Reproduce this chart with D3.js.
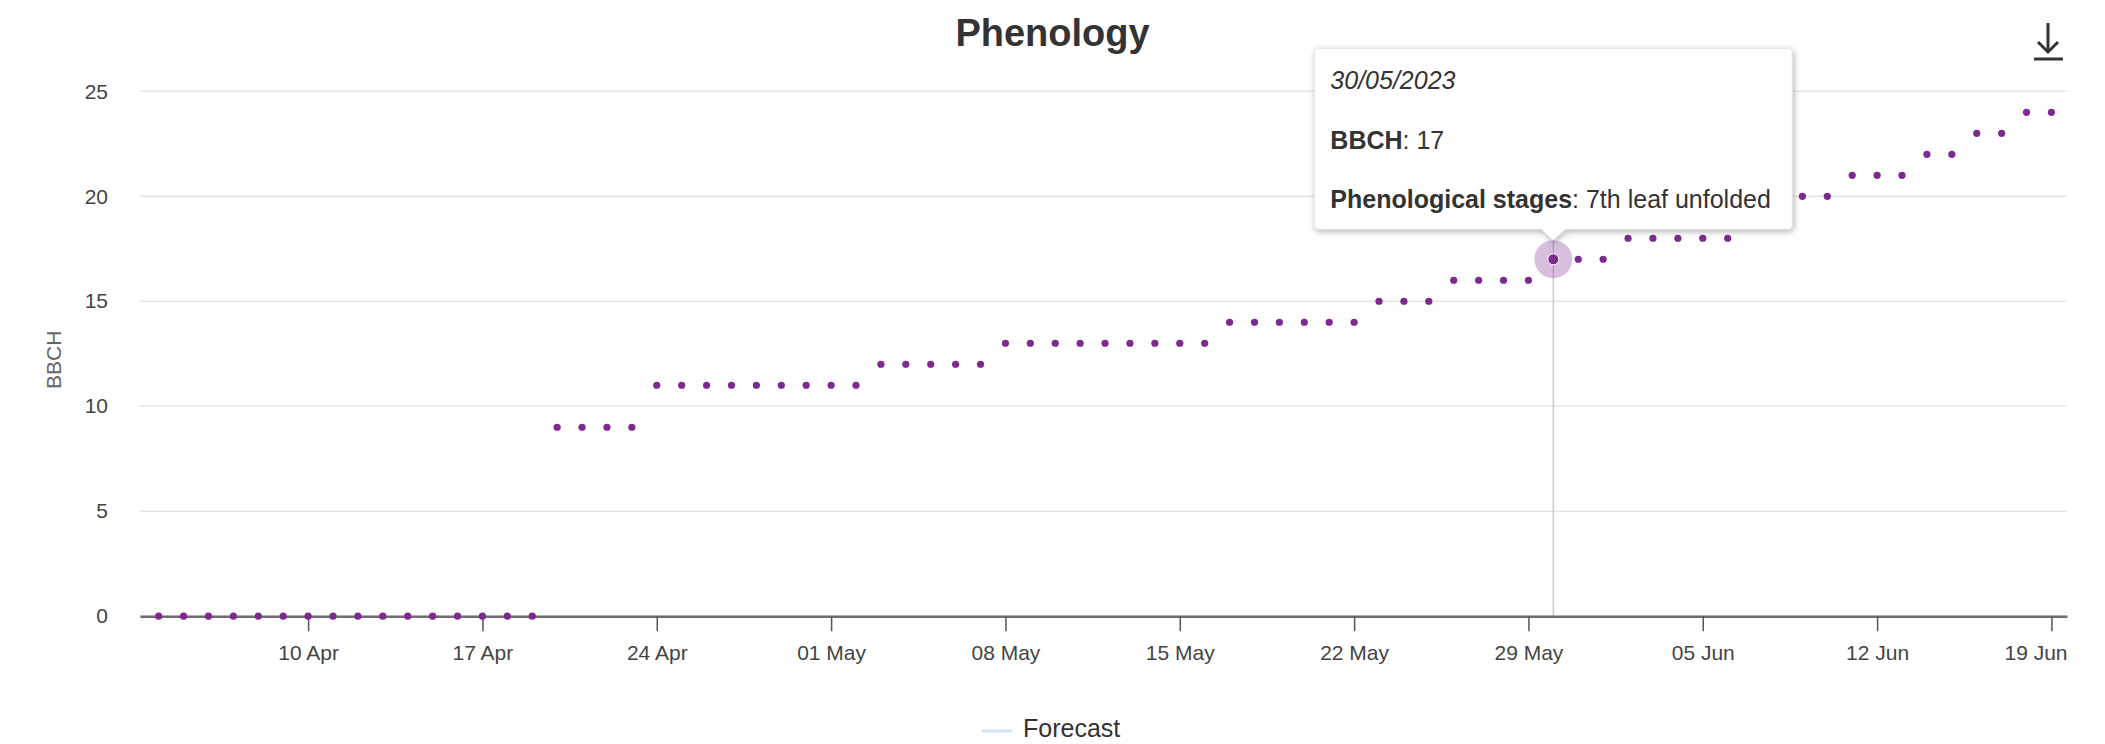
<!DOCTYPE html>
<html>
<head>
<meta charset="utf-8">
<script src="https://cdn.jsdelivr.net/npm/d3@7"></script>
<style>
    body { margin: 0; background: #fff; }
    svg { display: block; font-family: "Liberation Sans", Arial, sans-serif; }
</style>
</head>
<body>
<div id="chart"></div>
<script>
const WIDTH = 2105
const HEIGHT = 744
const DOT_COLOR = '#7d2a8f'

// Daily BBCH observations
const dates = [
    '2023-04-04', '2023-04-05', '2023-04-06', '2023-04-07', '2023-04-08', '2023-04-09', '2023-04-10',
    '2023-04-11', '2023-04-12', '2023-04-13', '2023-04-14', '2023-04-15', '2023-04-16', '2023-04-17',
    '2023-04-18', '2023-04-19', '2023-04-20', '2023-04-21', '2023-04-22', '2023-04-23', '2023-04-24',
    '2023-04-25', '2023-04-26', '2023-04-27', '2023-04-28', '2023-04-29', '2023-04-30', '2023-05-01',
    '2023-05-02', '2023-05-03', '2023-05-04', '2023-05-05', '2023-05-06', '2023-05-07', '2023-05-08',
    '2023-05-09', '2023-05-10', '2023-05-11', '2023-05-12', '2023-05-13', '2023-05-14', '2023-05-15',
    '2023-05-16', '2023-05-17', '2023-05-18', '2023-05-19', '2023-05-20', '2023-05-21', '2023-05-22',
    '2023-05-23', '2023-05-24', '2023-05-25', '2023-05-26', '2023-05-27', '2023-05-28', '2023-05-29',
    '2023-05-30', '2023-05-31', '2023-06-01', '2023-06-02', '2023-06-03', '2023-06-04', '2023-06-05',
    '2023-06-06', '2023-06-07', '2023-06-08', '2023-06-09', '2023-06-10', '2023-06-11', '2023-06-12',
    '2023-06-13', '2023-06-14', '2023-06-15', '2023-06-16', '2023-06-17', '2023-06-18', '2023-06-19'
]
const bbch = [
    0, 0, 0, 0, 0, 0, 0,
    0, 0, 0, 0, 0, 0, 0,
    0, 0, 9, 9, 9, 9, 11,
    11, 11, 11, 11, 11, 11, 11,
    11, 12, 12, 12, 12, 12, 13,
    13, 13, 13, 13, 13, 13, 13,
    13, 14, 14, 14, 14, 14, 14,
    15, 15, 15, 16, 16, 16, 16,
    17, 17, 17, 18, 18, 18, 18,
    18, 19, 19, 20, 20, 21, 21,
    21, 22, 22, 23, 23, 24, 24
]
const yTicks = [0, 5, 10, 15, 20, 25]

// Hovered point shown in the tooltip
const hoverDate = '2023-05-30'
const hoverStage = '7th leaf unfolded'

const legendItems = ['Forecast']

const parse = d3.utcParse('%Y-%m-%d')
const data = dates.map((d, i) => ({ date: parse(d), value: bbch[i] }))

const plot = { left: 140, right: 2067, top: 91.3, bottom: 616.2 }

const svg = d3.select('#chart')
    .append('svg')
    .attr('width', WIDTH)
    .attr('height', HEIGHT)

const defs = svg.append('defs')
const shadow = defs.append('filter')
    .attr('id', 'tip-shadow')
    .attr('x', '-10%').attr('y', '-10%')
    .attr('width', '125%').attr('height', '135%')
shadow.append('feDropShadow')
    .attr('dx', 1).attr('dy', 2)
    .attr('stdDeviation', 3)
    .attr('flood-color', '#000')
    .attr('flood-opacity', 0.3)

const first = data[0].date
const last = data[data.length - 1].date
const x = d3.scaleUtc()
    .domain([d3.utcHour.offset(first, -18), d3.utcHour.offset(last, 15)])
    .range([plot.left, plot.right])
const y = d3.scaleLinear()
    .domain([0, 25])
    .range([plot.bottom, plot.top])

// Horizontal grid
svg.append('g')
    .selectAll('line')
    .data(yTicks)
    .join('line')
    .attr('x1', plot.left)
    .attr('x2', plot.right)
    .attr('y1', d => y(d))
    .attr('y2', d => y(d))
    .attr('stroke', '#e6e6e6')
    .attr('stroke-width', 1.5)

// Y axis labels
const yAxis = svg.append('g')
    .attr('transform', `translate(${plot.left},0)`)
    .call(d3.axisLeft(y).tickValues(yTicks).tickSize(0).tickPadding(32))
yAxis.select('.domain').remove()
yAxis.selectAll('text')
    .attr('font-size', 21)
    .attr('fill', '#444')
    .attr('font-family', null)

svg.append('text')
    .attr('transform', `translate(61,${(plot.top + plot.bottom) / 2 + 6}) rotate(-90)`)
    .attr('text-anchor', 'middle')
    .attr('font-size', 21)
    .attr('fill', '#666')
    .text('BBCH')

// Crosshair for the hovered date
const hover = data.find(d => +d.date === +parse(hoverDate))
svg.append('line')
    .attr('x1', x(hover.date)).attr('x2', x(hover.date))
    .attr('y1', plot.top).attr('y2', plot.bottom)
    .attr('stroke', '#cccccc')
    .attr('stroke-width', 1.5)

// X axis
const xAxis = svg.append('g')
    .attr('transform', `translate(0,${plot.bottom})`)
    .call(d3.axisBottom(x)
        .ticks(d3.utcMonday.every(1))
        .tickFormat(d3.utcFormat('%d %b'))
        .tickSize(15)
        .tickSizeOuter(0)
        .tickPadding(14))
xAxis.select('.domain')
    .attr('stroke', '#6e6e6e')
    .attr('stroke-width', 2.5)
xAxis.selectAll('.tick line')
    .attr('stroke', '#555')
    .attr('stroke-width', 1.5)
xAxis.selectAll('text')
    .attr('font-size', 21)
    .attr('fill', '#444')
    .attr('font-family', null)

// Keep the last label inside the plot edge
xAxis.selectAll('.tick text')
    .filter(function () {
        const tick = this.parentNode
        return tick === tick.parentNode.lastElementChild
    })
    .attr('text-anchor', 'end')
    .attr('x', function () {
        const tick = d3.select(this.parentNode).datum()
        return plot.right - x(tick)
    })

// Points
svg.append('g')
    .selectAll('circle')
    .data(data)
    .join('circle')
    .attr('cx', d => x(d.date))
    .attr('cy', d => y(d.value))
    .attr('r', 3.6)
    .attr('fill', DOT_COLOR)

// Hover halo
svg.append('circle')
    .attr('cx', x(hover.date))
    .attr('cy', y(hover.value))
    .attr('r', 19)
    .attr('fill', DOT_COLOR)
    .attr('fill-opacity', 0.3)
svg.append('circle')
    .attr('cx', x(hover.date))
    .attr('cy', y(hover.value))
    .attr('r', 5.5)
    .attr('fill', DOT_COLOR)
    .attr('stroke', '#fff')
    .attr('stroke-width', 1)

// Tooltip
const tipW = 478
const tipH = 181
const tipX = x(hover.date) - tipW / 2
const tipY = y(hover.value) - 211
const px = x(hover.date)
const tipPath = [
    `M${tipX + 4},${tipY}`,
    `H${tipX + tipW - 4}`,
    `Q${tipX + tipW},${tipY} ${tipX + tipW},${tipY + 4}`,
    `V${tipY + tipH - 4}`,
    `Q${tipX + tipW},${tipY + tipH} ${tipX + tipW - 4},${tipY + tipH}`,
    `H${px + 12}`,
    `L${px},${tipY + tipH + 11}`,
    `L${px - 12},${tipY + tipH}`,
    `H${tipX + 4}`,
    `Q${tipX},${tipY + tipH} ${tipX},${tipY + tipH - 4}`,
    `V${tipY + 4}`,
    `Q${tipX},${tipY} ${tipX + 4},${tipY}`,
    'Z'
].join(' ')

const tip = svg.append('g')
tip.append('path')
    .attr('d', tipPath)
    .attr('fill', '#fff')
    .attr('stroke', '#e2e2e2')
    .attr('stroke-width', 1)
    .attr('filter', 'url(#tip-shadow)')

const tipText = tip.append('g')
    .attr('font-size', 25)
    .attr('fill', '#333')
tipText.append('text')
    .attr('x', tipX + 16)
    .attr('y', tipY + 41)
    .attr('font-style', 'italic')
    .text(d3.utcFormat('%d/%m/%Y')(hover.date))

const line2 = tipText.append('text')
    .attr('x', tipX + 16)
    .attr('y', tipY + 101)
line2.append('tspan').attr('font-weight', 'bold').text('BBCH')
line2.append('tspan').text(`: ${hover.value}`)

const line3 = tipText.append('text')
    .attr('x', tipX + 16)
    .attr('y', tipY + 160)
line3.append('tspan').attr('font-weight', 'bold').text('Phenological stages')
line3.append('tspan').text(`: ${hoverStage}`)

// Title
svg.append('text')
    .attr('x', WIDTH / 2)
    .attr('y', 46)
    .attr('text-anchor', 'middle')
    .attr('font-size', 38)
    .attr('font-weight', 'bold')
    .attr('fill', '#333')
    .text('Phenology')

// Legend
const legend = svg.append('g')
    .attr('transform', 'translate(982,731)')
legend.selectAll('g')
    .data(legendItems)
    .join('g')
    .each(function (d) {
        const g = d3.select(this)
        g.append('line')
            .attr('x1', 0).attr('x2', 30)
            .attr('stroke', '#cfe6f6')
            .attr('stroke-width', 3)
        g.append('text')
            .attr('x', 41)
            .attr('y', 6)
            .attr('font-size', 25)
            .attr('fill', '#333')
            .text(d)
    })

// Download icon
const icon = svg.append('g')
    .attr('stroke', '#333')
    .attr('stroke-width', 3)
    .attr('fill', 'none')
icon.append('path').attr('d', 'M2048,23 V51')
icon.append('path').attr('d', 'M2038,42 L2048,52 L2058,42')
icon.append('path').attr('d', 'M2034,59 H2063')
</script>
</body>
</html>
